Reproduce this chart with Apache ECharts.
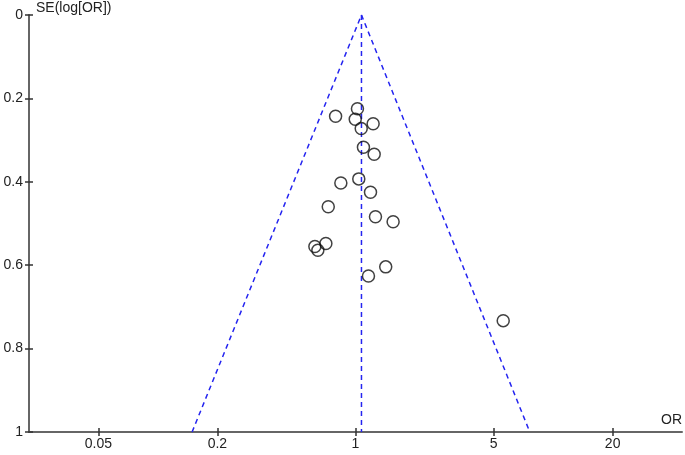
<!DOCTYPE html>
<html>
<head>
<meta charset="utf-8">
<script src="https://cdn.jsdelivr.net/npm/echarts@6/dist/echarts.min.js"></script>
<style>
  html, body { margin: 0; padding: 0; background: #fff; }
  #main { width: 685px; height: 455px; }
</style>
</head>
<body>
<div id="main"></div>
<script>
// study odds ratios and their standard errors
const studyOR = [1.023, 0.793, 0.997, 1.228, 1.069, 1.097, 1.243, 1.039, 0.843, 1.191,
                 0.728, 1.262, 1.550, 0.708, 0.623, 0.645, 1.422, 1.163, 5.590];
const studySE = [0.225, 0.243, 0.250, 0.261, 0.272, 0.317, 0.334, 0.393, 0.403, 0.425,
                 0.460, 0.484, 0.496, 0.548, 0.555, 0.564, 0.604, 0.626, 0.733];
// pooled estimate and funnel limits at SE = 1
const pooledOR = 1.072;
const funnelLowOR = 0.149;
const funnelHighOR = 7.62;
const orTicks = [0.05, 0.2, 1, 5, 20];

const lg = v => Math.log10(v);
const axisColor = '#666';
const tickColor = '#333';
const textColor = '#222';
const blue = '#2424f0';
const font = 'Liberation Sans, Arial, sans-serif';

const points = studyOR.map((or, i) => [lg(or), studySE[i]]);

// x axis on log10(OR); the second copy only draws the inner half of the ticks
const xBase = {
    type: 'value',
    min: -1.652,
    max: 1.652,
    splitLine: { show: false }
};
const yBase = {
    type: 'value',
    min: 0,
    max: 1,
    interval: 0.2,
    inverse: true,
    splitLine: { show: false }
};

const chart = echarts.init(document.getElementById('main'));
chart.setOption({
    animation: false,
    grid: { left: 29, right: 2, top: 15, bottom: 23, containLabel: false },
    xAxis: [
        Object.assign({}, xBase, {
            position: 'bottom',
            name: 'OR',
            nameLocation: 'end',
            nameGap: 0,
            nameTextStyle: { color: textColor, fontSize: 14, fontFamily: font, align: 'right', verticalAlign: 'bottom', padding: [0, 0, 5, 0] },
            axisLine: { onZero: false, lineStyle: { color: axisColor, width: 2 } },
            axisTick: { customValues: orTicks.map(lg), length: 4, lineStyle: { color: tickColor, width: 1.5 } },
            axisLabel: {
                customValues: orTicks.map(lg),
                color: textColor, fontSize: 14, fontFamily: font, margin: 5,
                formatter: v => {
                    const t = orTicks.find(o => Math.abs(lg(o) - v) < 1e-6);
                    return t === undefined ? '' : String(t);
                }
            }
        }),
        Object.assign({}, xBase, {
            position: 'bottom',
            axisLine: { show: false, onZero: false },
            axisTick: { customValues: orTicks.map(lg), inside: true, length: 4, lineStyle: { color: tickColor, width: 1.5 } },
            axisLabel: { show: false }
        })
    ],
    yAxis: [
        Object.assign({}, yBase, {
            position: 'left',
            name: 'SE(log[OR])',
            nameLocation: 'start',
            nameGap: 0,
            nameTextStyle: { color: textColor, fontSize: 14, fontFamily: font, align: 'left', verticalAlign: 'bottom', padding: [0, 0, 0, 7] },
            axisLine: { onZero: false, lineStyle: { color: axisColor, width: 2 } },
            axisTick: { length: 4, lineStyle: { color: tickColor, width: 1.5 } },
            axisLabel: { color: textColor, fontSize: 14, fontFamily: font, margin: 6 }
        }),
        Object.assign({}, yBase, {
            position: 'left',
            axisLine: { show: false, onZero: false },
            axisTick: { inside: true, length: 4, lineStyle: { color: tickColor, width: 1.5 } },
            axisLabel: { show: false }
        })
    ],
    series: [
        {
            type: 'line',
            data: [[lg(pooledOR), 0], [lg(pooledOR), 1]],
            showSymbol: false,
            lineStyle: { color: blue, width: 1.5, type: [5, 4] },
            z: 1
        },
        {
            type: 'line',
            data: [[lg(funnelLowOR), 1], [lg(pooledOR), 0], [lg(funnelHighOR), 1]],
            showSymbol: false,
            lineStyle: { color: blue, width: 1.5, type: [5, 4] },
            z: 1
        },
        {
            type: 'scatter',
            data: points,
            symbol: 'circle',
            symbolSize: 12,
            itemStyle: { color: 'rgba(255,255,255,0)', borderColor: '#111', borderWidth: 1.5 },
            z: 3
        }
    ]
});
</script>
</body>
</html>
